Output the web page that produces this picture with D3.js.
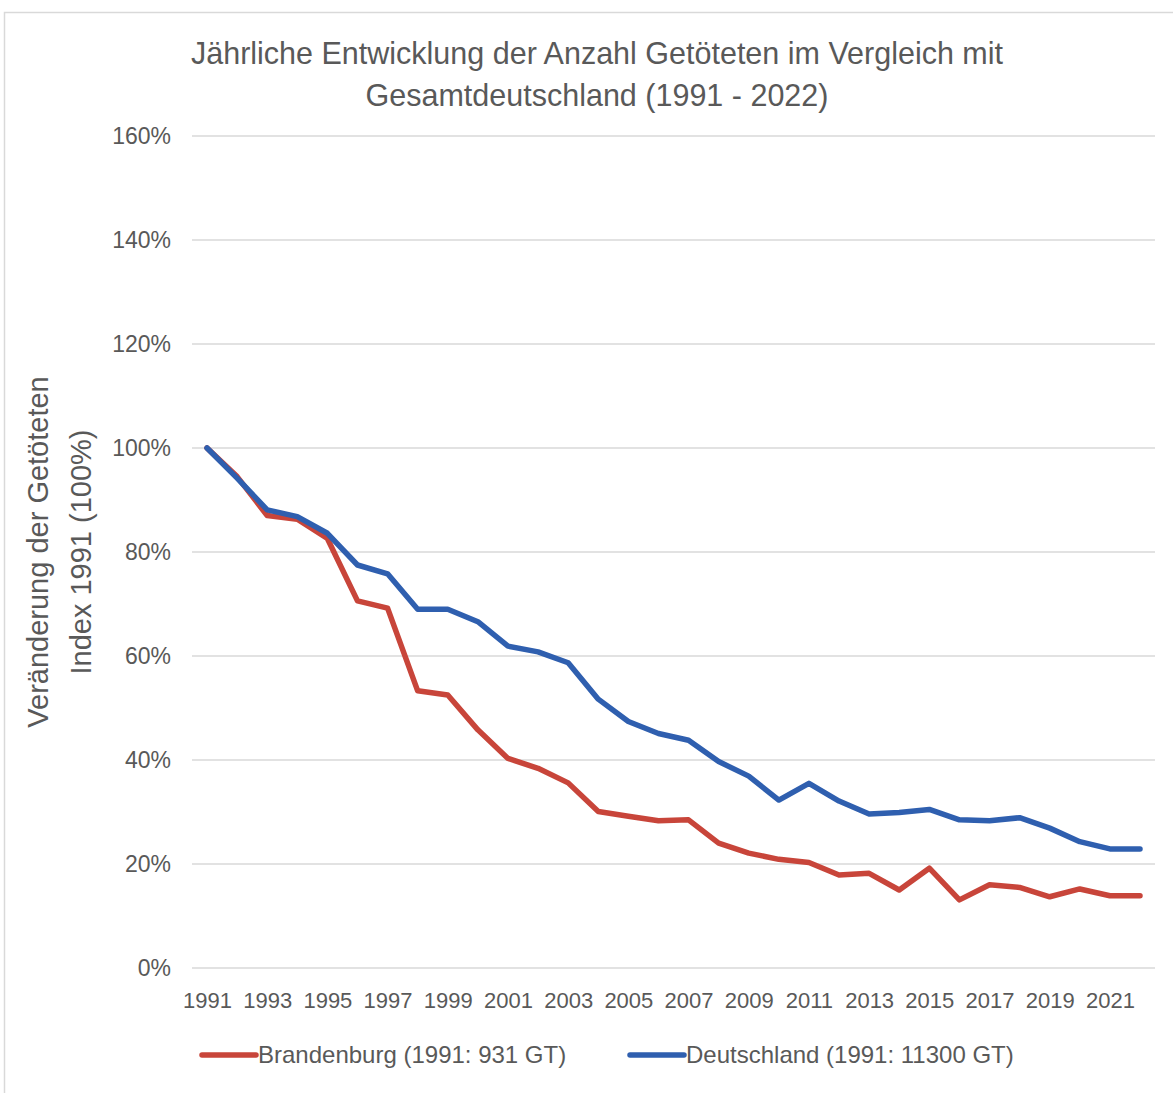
<!DOCTYPE html>
<html>
<head>
<meta charset="utf-8">
<script src="https://cdn.jsdelivr.net/npm/d3@7"></script>
<style>
  body { margin: 0; background: #fff; }
  text { font-family: "Liberation Sans", Arial, sans-serif; fill: #595959; }
</style>
</head>
<body>
<div id="chart"></div>
<script>
var years = d3.range(1991, 2023);
var brandenburg = [100, 94.5, 87.0, 86.3, 82.6, 70.6, 69.2, 53.3, 52.5, 45.8,
  40.3, 38.4, 35.6, 30.1, 29.2, 28.3, 28.5, 24.0, 22.1, 20.9,
  20.3, 17.9, 18.2, 15.0, 19.2, 13.1, 16.0, 15.5, 13.7, 15.2, 13.9, 13.9];
var deutschland = [100, 94.2, 88.1, 86.8, 83.6, 77.5, 75.8, 69.0, 69.0, 66.6,
  61.9, 60.8, 58.7, 51.7, 47.4, 45.1, 43.8, 39.7, 36.9, 32.3,
  35.5, 32.1, 29.6, 29.9, 30.5, 28.5, 28.3, 28.9, 26.9, 24.3, 22.9, 22.9];
var yTicks = [0, 20, 40, 60, 80, 100, 120, 140, 160];
var seriesNames = ["Brandenburg (1991: 931 GT)", "Deutschland (1991: 11300 GT)"];
var colors = ["#c8453a", "#2f5faf"];

var W = 1173, H = 1093;
var svg = d3.select("#chart").append("svg").attr("width", W).attr("height", H);

// outer frame
svg.append("rect").attr("x", 4.5).attr("y", 12.5).attr("width", W + 10).attr("height", H + 10)
  .attr("fill", "none").attr("stroke", "#d9d9d9").attr("stroke-width", 1.5);

var plotLeft = 192, plotRight = 1155, plotTop = 136, plotBottom = 968;

var x = d3.scalePoint().domain(years).range([207, 1140]);
var y = d3.scaleLinear().domain([0, 160]).range([plotBottom, plotTop]);

// gridlines
svg.append("g").selectAll("line").data(yTicks).enter().append("line")
  .attr("x1", plotLeft).attr("x2", plotRight)
  .attr("y1", function(d) { return y(d); }).attr("y2", function(d) { return y(d); })
  .attr("stroke", "#d9d9d9").attr("stroke-width", 1.5);

// y axis labels
var yAxis = d3.axisLeft(y).tickValues(yTicks).tickSize(0).tickPadding(0)
  .tickFormat(function(d) { return d + "%"; });
var gy = svg.append("g").attr("transform", "translate(171,0)").call(yAxis);
gy.select(".domain").remove();
gy.selectAll("text").style("font-size", "23px").attr("fill", "#595959")
  .style("font-family", null);

// x axis labels
var xAxis = d3.axisBottom(x).tickValues(years.filter(function(d, i) { return i % 2 == 0; }))
  .tickSize(0).tickPadding(0);
var gx = svg.append("g").attr("transform", "translate(0,992)").call(xAxis);
gx.select(".domain").remove();
gx.selectAll("text").style("font-size", "22px").attr("fill", "#595959")
  .style("font-family", null);

// lines
var line = d3.line()
  .x(function(d, i) { return x(years[i]); })
  .y(function(d) { return y(d); });

[brandenburg, deutschland].forEach(function(s, i) {
  svg.append("path").datum(s)
    .attr("d", line)
    .attr("fill", "none")
    .attr("stroke", colors[i])
    .attr("stroke-width", 5.5)
    .attr("stroke-linejoin", "round")
    .attr("stroke-linecap", "round");
});

// title
var title = svg.append("text").attr("text-anchor", "middle").style("font-size", "30.5px");
title.append("tspan").attr("x", 597).attr("y", 64).text("Jährliche Entwicklung der Anzahl Getöteten im Vergleich mit");
title.append("tspan").attr("x", 597).attr("y", 106).text("Gesamtdeutschland (1991 - 2022)");

// y axis title
var yt = svg.append("text").attr("text-anchor", "middle").style("font-size", "29px")
  .attr("transform", "translate(0,552) rotate(-90)");
yt.append("tspan").attr("x", 0).attr("y", 48).text("Veränderung der Getöteten");
yt.append("tspan").attr("x", 0).attr("y", 91).text("Index 1991 (100%)");

// legend
var legX = [200, 628];
seriesNames.forEach(function(n, i) {
  var g = svg.append("g").attr("transform", "translate(" + legX[i] + ",1055)");
  g.append("line").attr("x1", 2).attr("x2", 56).attr("y1", 0).attr("y2", 0)
    .attr("stroke", colors[i]).attr("stroke-width", 5.5).attr("stroke-linecap", "round");
  g.append("text").attr("x", 58).attr("y", 8).style("font-size", "24px").text(n);
});
</script>
</body>
</html>
